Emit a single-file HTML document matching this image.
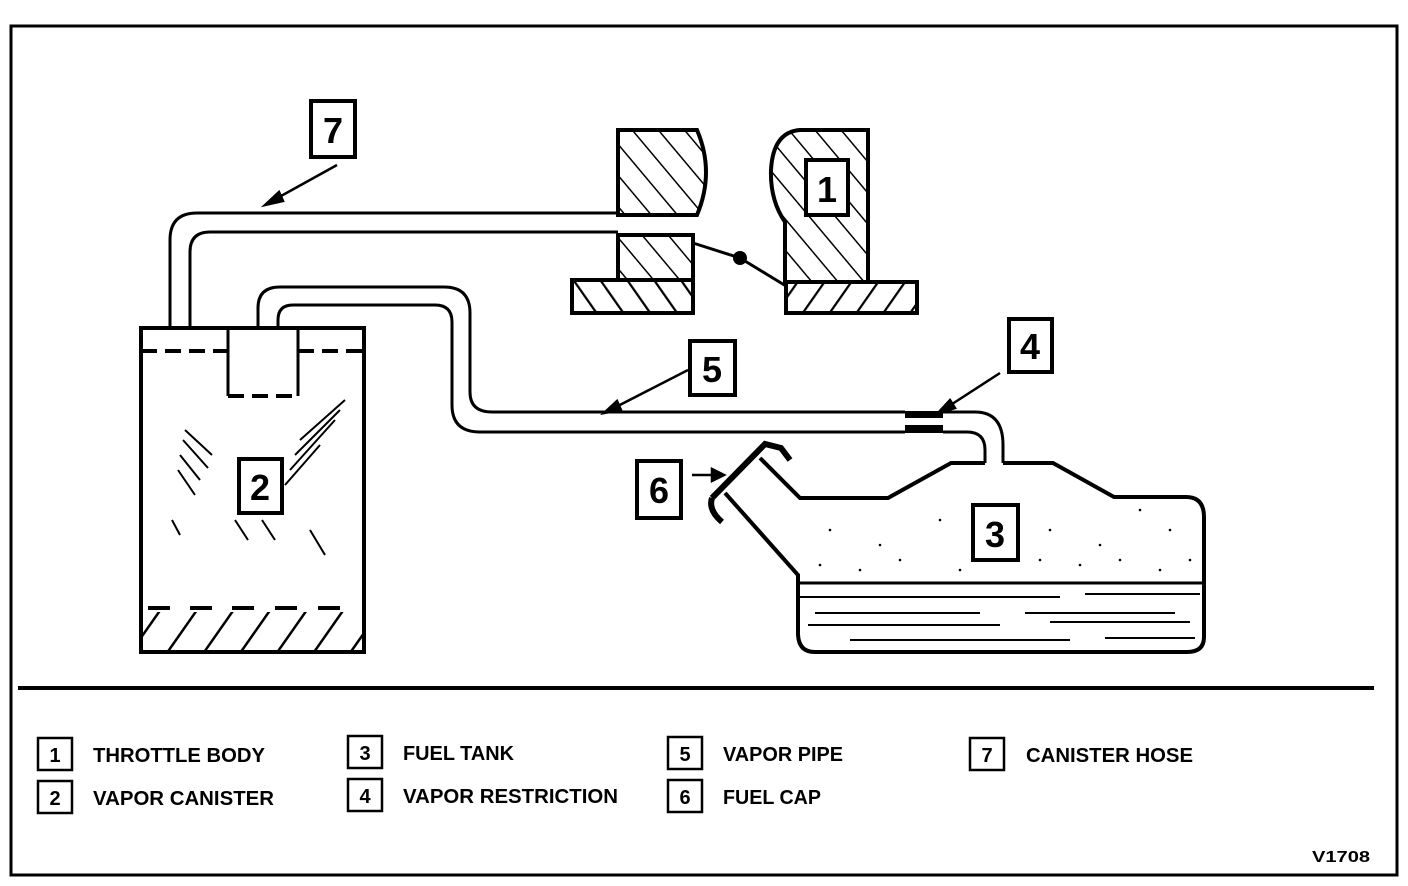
<!DOCTYPE html>
<html><head><meta charset="utf-8"><style>
html,body{margin:0;padding:0;background:#fff}
svg{display:block}
text{font-family:"Liberation Sans",sans-serif;font-weight:bold;fill:#000}
</style></head><body>
<svg width="1408" height="886" viewBox="0 0 1408 886" xmlns="http://www.w3.org/2000/svg">
<defs>
<pattern id="hb" patternUnits="userSpaceOnUse" width="20" height="20" patternTransform="rotate(-40)">
<line x1="0" y1="0" x2="0" y2="20" stroke="#000" stroke-width="3"/></pattern>
<pattern id="hf" patternUnits="userSpaceOnUse" width="22" height="22" patternTransform="rotate(-35)">
<line x1="0" y1="0" x2="0" y2="22" stroke="#000" stroke-width="4.5"/></pattern>
<pattern id="hf2" patternUnits="userSpaceOnUse" width="22" height="22" patternTransform="rotate(35)">
<line x1="0" y1="0" x2="0" y2="22" stroke="#000" stroke-width="4.5"/></pattern>
<pattern id="hc" patternUnits="userSpaceOnUse" width="30" height="30" patternTransform="rotate(35)">
<line x1="0" y1="0" x2="0" y2="30" stroke="#000" stroke-width="5"/></pattern>
</defs>
<rect x="11" y="26" width="1386" height="849" fill="none" stroke="#000" stroke-width="3"/>
<line x1="18" y1="688" x2="1374" y2="688" stroke="#000" stroke-width="4"/>

<g fill="none" stroke="#000" stroke-width="3">
<path d="M170 327 V240 Q170 213 197 213 H618"/>
<path d="M190 327 V252 Q190 232 210 232 H618"/>
<path d="M258 330 V308 Q258 287 280 287 H444 Q470 287 470 313 V392 Q470 412 492 412 H905"/>
<path d="M278 330 V320 Q278 305 293 305 H435 Q452 305 452 322 V405 Q452 432 480 432 H905"/>
<path d="M943 412 H975 Q1003 412 1003 445 V463"/>
<path d="M943 432 H967 Q985 432 985 450 V463"/>
<rect x="141" y="328" width="223" height="324" stroke-width="4"/>
<path d="M228 330 V396 M298 330 V396"/>
<path d="M141 351 H228 M298 351 H364 M228 396 H298" stroke-dasharray="16,8" stroke-width="4"/>
<path d="M985 463 H951 L888 498 H800 L760 458" stroke-width="4"/>
<path d="M1003 463 H1053 L1114 497 H1186 Q1204 497 1204 517 V637 Q1204 652 1187 652 H815 Q798 652 798 633 V575 L725 493" stroke-width="4"/>
<line x1="798" y1="583" x2="1204" y2="583"/>
<path d="M712 498 L765 444 L781 448 L790 460 M712 498 Q708 510 722 522" stroke-width="6"/>
</g>
<g stroke="#000" stroke-width="2">
<line x1="800" y1="597" x2="1060" y2="597"/><line x1="1085" y1="594" x2="1200" y2="594"/>
<line x1="815" y1="613" x2="980" y2="613"/><line x1="1025" y1="613" x2="1175" y2="613"/>
<line x1="808" y1="625" x2="1000" y2="625"/><line x1="1050" y1="622" x2="1190" y2="622"/>
<line x1="850" y1="640" x2="1070" y2="640"/><line x1="1105" y1="638" x2="1195" y2="638"/>
</g>
<g fill="#000">
<circle cx="830" cy="530" r="1.3"/><circle cx="880" cy="545" r="1.3"/><circle cx="940" cy="520" r="1.3"/><circle cx="1050" cy="530" r="1.3"/><circle cx="1100" cy="545" r="1.3"/><circle cx="1170" cy="530" r="1.3"/><circle cx="820" cy="565" r="1.3"/><circle cx="860" cy="570" r="1.3"/><circle cx="900" cy="560" r="1.3"/><circle cx="1040" cy="560" r="1.3"/><circle cx="1080" cy="565" r="1.3"/><circle cx="1120" cy="560" r="1.3"/><circle cx="1160" cy="570" r="1.3"/><circle cx="1190" cy="560" r="1.3"/><circle cx="960" cy="570" r="1.3"/><circle cx="1140" cy="510" r="1.3"/>
<rect x="905" y="411" width="38" height="7"/><rect x="905" y="425" width="38" height="8"/>
</g>
<rect x="143" y="610" width="219" height="40" fill="url(#hc)"/>
<rect x="143" y="604" width="219" height="8" fill="#fff"/>
<g stroke="#000" stroke-width="4"><line x1="148" y1="608" x2="170" y2="608"/><line x1="190" y1="608" x2="212" y2="608"/><line x1="232" y1="608" x2="254" y2="608"/><line x1="275" y1="608" x2="297" y2="608"/><line x1="318" y1="608" x2="340" y2="608"/></g>
<g stroke="#000" stroke-width="2">
<path d="M185 430 L212 455 M183 440 L208 468 M180 455 L200 480 M178 470 L195 495 M300 440 L345 400 M295 455 L340 410 M290 470 L335 420 M285 485 L320 445 M235 520 L248 540 M262 520 L275 540 M310 530 L325 555 M172 520 L180 535"/>
</g>
<g stroke="#000" stroke-width="4">
<path d="M618 130 H697 Q715 172 697 215 H618 Z" fill="url(#hb)"/>
<rect x="618" y="235" width="75" height="45" fill="url(#hb)"/>
<rect x="572" y="280" width="121" height="33" fill="url(#hf)"/>
<path d="M868 130 V282 H785 V222 Q770 200 771 170 Q773 132 800 130 Z" fill="url(#hb)"/>
<rect x="786" y="282" width="131" height="31" fill="url(#hf2)"/>
<path d="M693 243 L740 258 L786 286" fill="none" stroke-width="3"/>
</g>
<circle cx="740" cy="258" r="7" fill="#000"/>
<g fill="#fff" stroke="#000" stroke-width="4">
<rect x="311" y="101" width="44" height="56"/><rect x="806" y="160" width="42" height="55"/>
<rect x="239" y="459" width="43" height="54"/><rect x="690" y="341" width="45" height="54"/>
<rect x="1009" y="319" width="43" height="53"/><rect x="637" y="461" width="44" height="57"/>
<rect x="973" y="505" width="45" height="55"/>
</g>
<g font-size="36" text-anchor="middle">
<text x="333" y="143">7</text><text x="827" y="202">1</text><text x="260" y="500">2</text>
<text x="712" y="382">5</text><text x="1030" y="359">4</text><text x="659" y="503">6</text><text x="995" y="547">3</text>
</g>
<g stroke="#000" stroke-width="2.5" fill="#000">
<line x1="337" y1="165" x2="272" y2="201"/><path d="M265 205 L279 192 L283 201 Z"/>
<line x1="688" y1="370" x2="612" y2="409"/><path d="M604 413 L617 401 L621 410 Z"/>
<line x1="1000" y1="373" x2="946" y2="408"/><path d="M938 413 L950 400 L955 408 Z"/>
<line x1="692" y1="475" x2="716" y2="475"/><path d="M724 475 L712 469 L712 481 Z"/>
</g>
<g fill="#fff" stroke="#000" stroke-width="2.5">
<rect x="38" y="738" width="34" height="32"/><rect x="38" y="781" width="34" height="32"/>
<rect x="348" y="736" width="34" height="32"/><rect x="348" y="779" width="34" height="32"/>
<rect x="668" y="737" width="34" height="32"/><rect x="668" y="780" width="34" height="32"/>
<rect x="970" y="738" width="34" height="32"/>
</g>
<g font-size="20" text-anchor="middle" font-weight="normal">
<text x="55" y="762">1</text><text x="55" y="805">2</text><text x="365" y="760">3</text><text x="365" y="803">4</text>
<text x="685" y="761">5</text><text x="685" y="804">6</text><text x="987" y="762">7</text>
</g>
<g font-size="20">
<text x="93" y="762" textLength="172" lengthAdjust="spacingAndGlyphs">THROTTLE BODY</text>
<text x="93" y="805" textLength="181" lengthAdjust="spacingAndGlyphs">VAPOR CANISTER</text>
<text x="403" y="760" textLength="111" lengthAdjust="spacingAndGlyphs">FUEL TANK</text>
<text x="403" y="803" textLength="215" lengthAdjust="spacingAndGlyphs">VAPOR RESTRICTION</text>
<text x="723" y="761" textLength="120" lengthAdjust="spacingAndGlyphs">VAPOR PIPE</text>
<text x="723" y="804" textLength="98" lengthAdjust="spacingAndGlyphs">FUEL CAP</text>
<text x="1026" y="762" textLength="167" lengthAdjust="spacingAndGlyphs">CANISTER HOSE</text>
<text x="1312" y="862" font-size="16" textLength="58" lengthAdjust="spacingAndGlyphs">V1708</text>
</g>
</svg>
</body></html>
